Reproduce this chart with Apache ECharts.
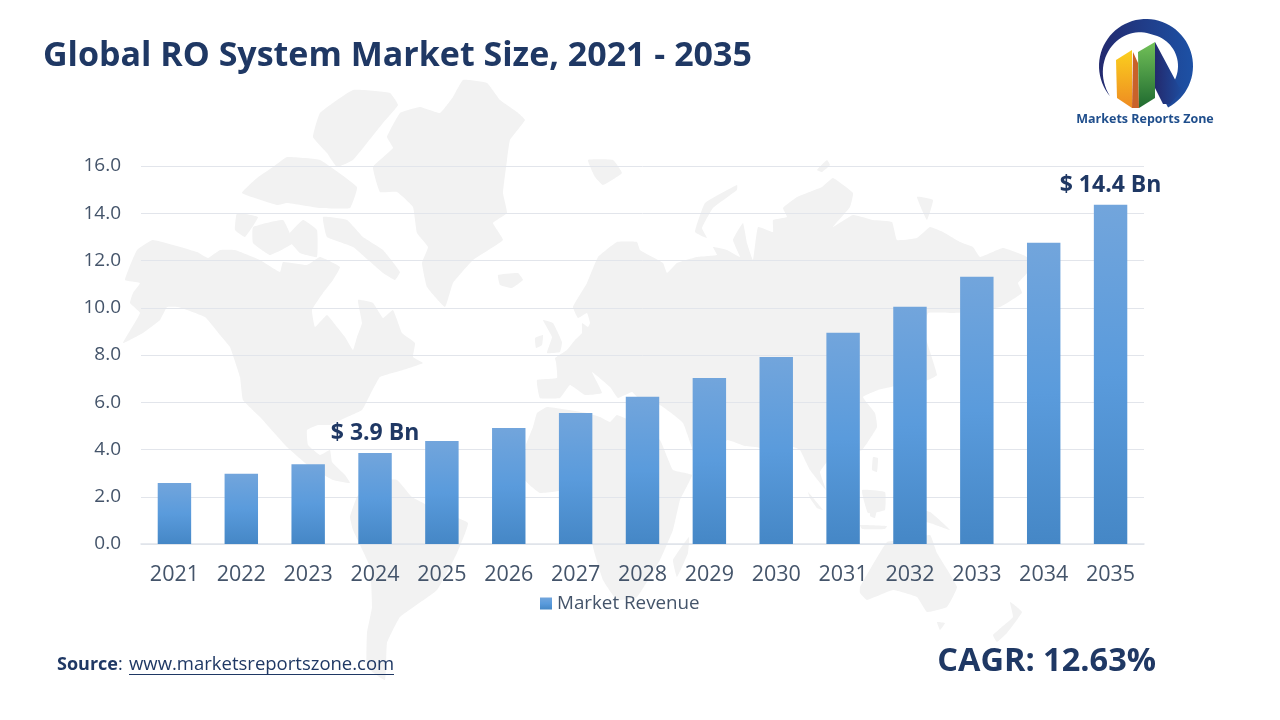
<!doctype html>
<html>
<head>
<meta charset="UTF-8">
<title>Global RO System Market Size, 2021 - 2035</title>
<style>
  html, body { margin: 0; padding: 0; background: #fff; }
  #main { width: 1280px; height: 720px; }
</style>
</head>
<body>
<div id="main"></div>
<script src="https://cdn.jsdelivr.net/npm/echarts@6/dist/echarts.min.js"></script>
<script>
var years = ['2021','2022','2023','2024','2025','2026','2027','2028','2029','2030','2031','2032','2033','2034','2035'];
var revenue = [2.58,2.97,3.38,3.85,4.36,4.91,5.55,6.23,7.03,7.92,8.94,10.04,11.31,12.75,14.36];
var calloutYears = { '2024': '$ 3.9 Bn', '2035': '$ 14.4 Bn' };
var seriesName = 'Market Revenue';

var navy = '#1f3864';
var axisText = '#44546a';
var font = '"Open Sans", "Noto Sans", sans-serif';

// faint world map behind the plot, traced roughly
var landShapes = [
  // north america
  [[125,280],[137,250],[153,240],[197,252],[208,258],[220,250],[235,250],[260,260],[280,272],[283,262],[307,265],[320,257],[340,267],[333,280],[323,293],[312,310],[315,327],[327,315],[337,327],[345,337],[353,350],[357,337],[362,323],[358,300],[373,303],[383,318],[393,310],[402,333],[415,343],[413,357],[423,363],[403,370],[380,377],[370,395],[362,410],[345,418],[330,425],[318,425],[307,430],[308,445],[320,455],[330,450],[332,462],[345,475],[350,483],[333,480],[310,467],[287,447],[260,417],[243,400],[240,377],[230,347],[220,335],[205,317],[178,307],[167,307],[160,320],[143,333],[123,343],[140,313],[130,303],[133,293],[140,283]],
  // south america
  [[350,517],[357,497],[373,480],[397,480],[412,497],[437,510],[468,523],[457,553],[437,590],[400,617],[387,643],[385,680],[367,667],[367,633],[372,607],[370,567],[353,530]],
  // greenland
  [[463,80],[487,83],[500,100],[517,112],[525,120],[510,140],[507,160],[503,193],[507,213],[493,223],[503,240],[473,260],[453,283],[445,307],[427,287],[422,263],[428,247],[417,233],[413,207],[397,192],[380,192],[373,167],[393,148],[387,137],[400,113],[420,107],[440,113],[453,97]],
  // canadian arctic
  [[320,113],[353,90],[390,93],[398,105],[383,123],[367,143],[353,160],[337,167],[327,153],[313,137]],
  [[287,157],[320,160],[357,187],[350,208],[320,208],[287,203],[277,205],[242,193],[257,178],[273,167]],
  [[237,213],[258,217],[245,237],[235,230]],
  [[253,227],[283,220],[293,243],[270,255],[253,243]],
  [[323,217],[347,220],[363,237],[383,250],[400,272],[395,280],[383,273],[353,247],[327,237]],
  [[303,220],[317,230],[317,257],[300,253],[287,237]],
  // iceland
  [[498,275],[518,273],[523,280],[512,288],[500,285]],
  // eurasia
  [[573,307],[587,283],[598,257],[617,242],[637,242],[640,250],[663,263],[667,273],[677,263],[697,257],[717,255],[713,247],[727,250],[740,257],[733,240],[743,223],[747,243],[753,260],[758,227],[773,232],[773,220],[787,217],[783,208],[797,197],[807,193],[822,187],[833,178],[853,193],[850,207],[833,227],[853,215],[873,220],[892,222],[897,240],[917,238],[930,227],[943,232],[960,242],[973,247],[980,257],[1003,248],[1027,257],[1027,273],[1018,283],[1022,293],[1000,307],[970,312],[953,313],[928,313],[925,335],[937,375],[928,380],[900,385],[878,390],[863,397],[875,413],[877,427],[862,450],[840,455],[827,462],[820,472],[826,490],[810,470],[800,450],[793,447],[775,470],[760,448],[745,446],[727,440],[715,465],[700,470],[683,423],[660,405],[640,400],[632,392],[618,398],[610,387],[592,372],[602,393],[585,395],[570,385],[560,398],[540,398],[537,380],[557,378],[556,362],[555,358],[567,350],[575,340],[582,333],[582,323],[588,327],[590,323],[587,313],[578,318]],
  // british isles
  [[543,320],[553,323],[562,342],[560,352],[547,353],[552,337]],
  [[535,338],[543,335],[542,345],[536,348]],
  // arctic russia and svalbard
  [[737,185],[737,190],[713,208],[702,228],[707,238],[695,232],[705,203]],
  [[588,160],[613,160],[622,173],[603,185],[595,177]],
  [[817,170],[827,160],[830,165],[822,172]],
  [[917,197],[933,200],[927,220]],
  // africa
  [[537,413],[547,407],[587,413],[600,417],[610,422],[617,415],[640,425],[660,440],[673,470],[692,475],[680,500],[673,530],[660,560],[637,597],[617,600],[603,580],[593,547],[590,510],[575,490],[540,493],[525,480],[526,445],[533,427]],
  // madagascar
  [[689,537],[688,553],[677,577],[673,560]],
  // south east asia
  [[808,492],[823,510],[817,508],[810,498]],
  [[862,490],[885,492],[885,510],[868,513]],
  [[860,525],[887,526],[885,529],[862,529]],
  [[871,506],[877,508],[875,518],[870,516]],
  [[873,457],[878,458],[877,472],[872,470]],
  [[896,505],[930,512],[950,530],[930,523],[900,515]],
  // australia
  [[860,593],[860,587],[887,542],[905,540],[930,535],[937,553],[957,587],[947,607],[927,612],[917,597],[893,590],[867,600]],
  [[937,622],[945,623],[940,630]],
  // new zealand
  [[1010,602],[1022,612],[1007,633],[997,642],[993,635],[1013,617]]
];

// logo crescent tapers to nothing at the lower left
function crescent() {
  var outer = [], inner = [], i, t, a, w;
  for (i = 0; i <= 60; i++) {
    t = i / 60;
    a = (62 - 282 * t) * Math.PI / 180;
    w = t < 0.5 ? 15 : 15 * (1 - t) * 2;
    outer.push([1146 + 47 * Math.cos(a), 66 + 47 * Math.sin(a)]);
    inner.unshift([1146 + (47 - w) * Math.cos(a), 66 + (47 - w) * Math.sin(a)]);
  }
  return outer.concat(inner);
}

function vgrad(c0, c1) {
  return new echarts.graphic.LinearGradient(0, 0, 0, 1, [
    { offset: 0, color: c0 }, { offset: 1, color: c1 }
  ]);
}
var logoBlue = new echarts.graphic.LinearGradient(0, 0, 1, 0, [
  { offset: 0, color: '#232a6e' }, { offset: 1, color: '#1d51a5' }
]);

var graphics = [];
landShapes.forEach(function (pts) {
  graphics.push({
    type: 'polygon', z: -10, silent: true,
    shape: { points: pts, smooth: 0.1 },
    style: { fill: '#f2f2f2' }
  });
});

// logo
graphics.push(
  { type: 'polygon', shape: { points: crescent() }, style: { fill: logoBlue } },
  { type: 'polygon', shape: { points: [[1155,42],[1179,87],[1186,86],[1170,104],[1163,104],[1155,88]] }, style: { fill: logoBlue } },
  { type: 'polygon', shape: { points: [[1116,60],[1132,50],[1132,108],[1117,98]] }, style: { fill: vgrad('#fbd01e', '#ee8b22') } },
  { type: 'polygon', shape: { points: [[1133,52],[1138,63],[1139,108],[1132,108]] }, style: { fill: '#c9622a' } },
  { type: 'polygon', shape: { points: [[1138,52],[1155,42],[1155,98],[1139,108]] }, style: { fill: vgrad('#72c158', '#1f6a30') } },
  { type: 'text', x: 1145, y: 119, style: { text: 'Markets Reports Zone', font: 'bold 12.5px ' + font, fill: '#1f4e8c', align: 'center', verticalAlign: 'middle' } }
);

// footer
graphics.push(
  { type: 'text', x: 57, y: 665, style: { text: '{b|Source}:', font: '18px ' + font, fill: navy, verticalAlign: 'middle', rich: { b: { font: 'bold 18px ' + font, fill: navy } } } },
  { type: 'text', x: 129, y: 665, style: { text: 'www.marketsreportszone.com', font: '18.5px ' + font, fill: navy, verticalAlign: 'middle' } },
  { type: 'line', shape: { x1: 129, y1: 674.5, x2: 394, y2: 674.5 }, style: { stroke: navy, lineWidth: 1 } },
  { type: 'text', x: 1156, y: 662, style: { text: 'CAGR: 12.63%', font: 'bold 32.5px ' + font, fill: navy, align: 'right', verticalAlign: 'middle' } }
);

var barData = years.map(function (y, i) {
  var item = { value: revenue[i] };
  if (calloutYears[y]) {
    item.label = {
      show: true, position: 'top', distance: 8,
      formatter: calloutYears[y],
      fontFamily: font, fontWeight: 'bold', fontSize: 23, color: navy
    };
  }
  return item;
});

var myChart = echarts.init(document.getElementById('main'));
var option = {
  animation: false,
  backgroundColor: '#fff',
  title: {
    text: 'Global RO System Market Size, 2021 - 2035',
    left: 38, top: 34,
    textStyle: { fontFamily: font, fontWeight: 'bold', fontSize: 34, color: navy }
  },
  grid: { left: 141, right: 136, top: 166, bottom: 176 },
  legend: {
    data: [seriesName],
    left: 535, top: 589, itemWidth: 12, itemHeight: 12, itemGap: 6,
    icon: 'rect',
    textStyle: { fontFamily: font, fontSize: 18.8, color: axisText }
  },
  xAxis: {
    type: 'category', data: years,
    axisTick: { show: false },
    axisLine: { lineStyle: { color: '#dfe3ea', width: 1.5 } },
    axisLabel: { fontFamily: font, fontSize: 21.5, color: axisText, margin: 20 }
  },
  yAxis: {
    type: 'value', min: 0, max: 16, interval: 2,
    axisLine: { show: false }, axisTick: { show: false },
    splitLine: { lineStyle: { color: '#e2e5eb', width: 1 } },
    axisLabel: {
      fontFamily: font, fontSize: 19, color: axisText, margin: 20,
      formatter: function (v) { return v.toFixed(1); }
    }
  },
  series: [{
    name: seriesName, type: 'bar', data: barData, barWidth: '50%',
    itemStyle: {
      color: new echarts.graphic.LinearGradient(0, 0, 0, 1, [
        { offset: 0, color: '#72a5dc' },
        { offset: 0.5, color: '#5a9bdc' },
        { offset: 1, color: '#4587c6' }
      ])
    }
  }],
  graphic: { elements: graphics }
};
myChart.setOption(option);
</script>
</body>
</html>
